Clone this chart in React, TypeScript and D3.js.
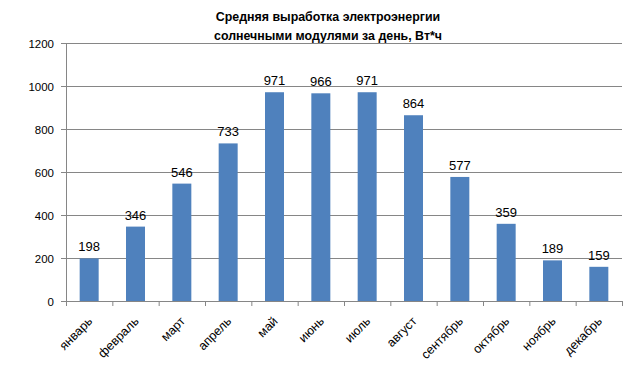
import React from "react";
import * as d3 from "d3";

const months = ["январь","февраль","март","апрель","май","июнь","июль","август","сентябрь","октябрь","ноябрь","декабрь"];
const values = [198, 346, 546, 733, 971, 966, 971, 864, 577, 359, 189, 159];
const yTicks = [0, 200, 400, 600, 800, 1000, 1200];
const titleLines = ["Средняя выработка электроэнергии", "солнечными модулями за день, Вт*ч"];

export default function App() {
  const W = 637, H = 376;
  const left = 66, right = 622, top = 43, bottom = 301;
  const x = d3.scaleBand<string>().domain(months).range([left, right]).paddingInner(0.59).paddingOuter(0.295);
  const xb = d3.scaleBand<string>().domain(months).range([left, right]);
  const y = d3.scaleLinear().domain([0, 1200]).range([bottom, top]);
  const font = "Liberation Sans, Arial, sans-serif";
  return (
    <svg width={W} height={H} style={{ position: "absolute", left: 0, top: 0 }} fontFamily={font}>
      <rect width={W} height={H} fill="#fff" />
      {titleLines.map((t, i) => (
        <text key={i} x={328} y={21 + i * 19} textAnchor="middle" fontWeight="bold" fontSize={12.4}>{t}</text>
      ))}
      {yTicks.map(t => (
        <g key={t}>
          {t > 0 && <line x1={left} x2={right} y1={y(t) + 0.5} y2={y(t) + 0.5} stroke="#868686" />}
          <line x1={left - 5} x2={left} y1={y(t) + 0.5} y2={y(t) + 0.5} stroke="#868686" />
          <text x={54} y={y(t) + 4.5} textAnchor="end" fontSize={11.5} fill="#000">{t}</text>
        </g>
      ))}
      <line x1={left + 0.5} x2={left + 0.5} y1={top} y2={bottom} stroke="#868686" />
      <line x1={left} x2={right} y1={bottom + 0.5} y2={bottom + 0.5} stroke="#868686" />
      {months.map((m, i) => (
        <line key={"t" + i} x1={xb(m)! + 0.5} x2={xb(m)! + 0.5} y1={bottom} y2={bottom + 5} stroke="#868686" />
      ))}
      <line x1={right + 0.5} x2={right + 0.5} y1={bottom} y2={bottom + 5} stroke="#868686" />
      {months.map((m, i) => (
        <g key={m}>
          <rect x={x(m)} y={y(values[i])} width={x.bandwidth()} height={bottom - y(values[i])} fill="#4F81BD" />
          <text x={x(m)! + x.bandwidth() / 2} y={y(values[i]) - 7} textAnchor="middle" fontSize={13}>{values[i]}</text>
          <text transform={`translate(${xb(m)! + xb.bandwidth() / 2 + 4},${bottom + 21}) rotate(-45)`} textAnchor="end" fontSize={12.5}>{m}</text>
        </g>
      ))}
    </svg>
  );
}
